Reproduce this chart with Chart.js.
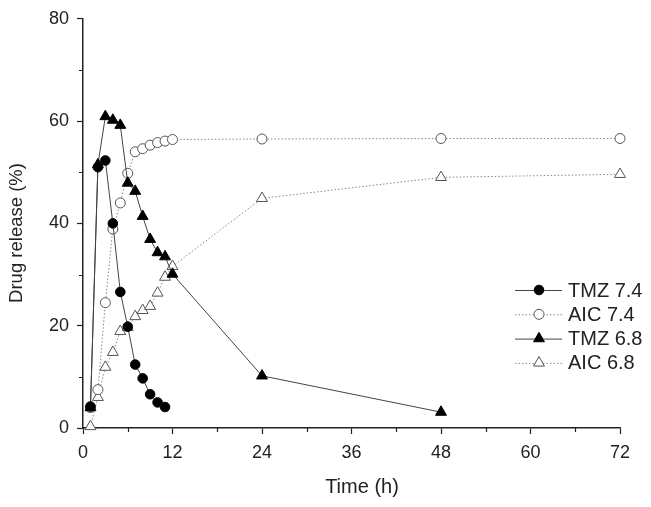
<!DOCTYPE html>
<html>
<head>
<meta charset="utf-8">
<script src="https://cdn.jsdelivr.net/npm/chart.js@4/dist/chart.umd.min.js"></script>
<style>
  html, body { margin: 0; padding: 0; background: #fff; }
  #wrap { width: 651px; height: 507px; }
</style>
</head>
<body>
<div id="wrap"><canvas id="releaseChart" width="651" height="507"></canvas></div>
<script>
// time points (h) and release values (%)
const tmz74Time = [1, 2, 3, 4, 5, 6, 7, 8, 9, 10, 11];
const tmz74 = [4.2, 51.0, 52.3, 40.0, 26.6, 19.8, 12.4, 9.7, 6.6, 5.0, 4.1];

const aic74Time = [1, 2, 3, 4, 5, 6, 7, 8, 9, 10, 11, 12, 24, 48, 72];
const aic74 = [4.0, 7.5, 24.5, 38.9, 44.0, 49.8, 54.0, 54.6, 55.3, 55.8, 56.1, 56.4, 56.5, 56.6, 56.6];

const tmz68Time = [1, 2, 3, 4, 5, 6, 7, 8, 9, 10, 11, 12, 24, 48];
const tmz68 = [4.0, 51.5, 60.9, 60.2, 59.2, 47.9, 46.3, 41.4, 36.9, 34.3, 33.5, 30.1, 10.2, 3.1];

const aic68Time = [1, 2, 3, 4, 5, 6, 7, 8, 9, 10, 11, 12, 24, 48, 72];
const aic68 = [0.3, 6.0, 11.9, 14.8, 18.9, 19.7, 21.8, 23.0, 23.8, 26.4, 29.5, 31.6, 44.9, 49.0, 49.6];

const xTicks = [0, 12, 24, 36, 48, 60, 72];
const yTicks = [0, 20, 40, 60, 80];
const xTitle = 'Time (h)';
const yTitle = 'Drug release (%)';

const FONT = 'Liberation Sans, Arial, sans-serif';
const INK = '#222';

function pts(xs, ys) {
  return xs.map((x, i) => ({ x: x, y: ys[i] }));
}

const solid = { borderColor: '#444', borderWidth: 1, borderDash: [] };
const dotted = { borderColor: '#888', borderWidth: 1, borderDash: [1.5, 2] };

const datasets = [
  Object.assign({
    label: 'TMZ 7.4', data: pts(tmz74Time, tmz74), order: 1,
    pointStyle: 'circle', pointRadius: 4.8, pointBackgroundColor: '#000', pointBorderColor: '#000', pointBorderWidth: 1
  }, solid),
  Object.assign({
    label: 'AIC 7.4', data: pts(aic74Time, aic74), order: 3,
    pointStyle: 'circle', pointRadius: 5, pointBackgroundColor: '#fff', pointBorderColor: '#555', pointBorderWidth: 1
  }, dotted),
  Object.assign({
    label: 'TMZ 6.8', data: pts(tmz68Time, tmz68), order: 2,
    pointStyle: 'triangle', pointRadius: 6.3, pointBackgroundColor: '#000', pointBorderColor: '#000', pointBorderWidth: 1
  }, solid),
  Object.assign({
    label: 'AIC 6.8', data: pts(aic68Time, aic68), order: 4,
    pointStyle: 'triangle', pointRadius: 6.3, pointBackgroundColor: '#fff', pointBorderColor: '#555', pointBorderWidth: 1
  }, dotted)
];

// minor ticks halfway between the labelled ones, plus the axis titles
const axisExtras = {
  id: 'axisExtras',
  afterDraw(chart) {
    const ctx = chart.ctx;
    const x = chart.scales.x, y = chart.scales.y;
    const area = chart.chartArea;
    ctx.save();
    ctx.strokeStyle = INK;
    ctx.lineWidth = 1.2;
    ctx.beginPath();
    for (let v = 6; v < 72; v += 12) {
      const px = Math.round(x.getPixelForValue(v)) + 0.5;
      ctx.moveTo(px, area.bottom);
      ctx.lineTo(px, area.bottom + 4);
    }
    for (let v = 10; v < 80; v += 20) {
      const py = Math.round(y.getPixelForValue(v)) + 0.5;
      ctx.moveTo(area.left, py);
      ctx.lineTo(area.left - 4, py);
    }
    ctx.stroke();

    ctx.fillStyle = INK;
    ctx.textAlign = 'center';
    ctx.textBaseline = 'middle';
    ctx.font = '20px ' + FONT;
    ctx.fillText(xTitle, 362, 487);
    ctx.translate(17, 233);
    ctx.rotate(-Math.PI / 2);
    ctx.font = '18.5px ' + FONT;
    ctx.fillText(yTitle, 0, 0);
    ctx.restore();
  }
};

// legend with line sample + marker, like the original figure
const lineLegend = {
  id: 'lineLegend',
  afterDraw(chart) {
    const ctx = chart.ctx;
    const x0 = 515, x1 = 562, xm = 539, xt = 568;
    let yRow = 290;
    ctx.save();
    chart.data.datasets.forEach((ds) => {
      ctx.strokeStyle = ds.borderColor;
      ctx.lineWidth = ds.borderWidth;
      ctx.setLineDash(ds.borderDash);
      ctx.beginPath();
      ctx.moveTo(x0, yRow + 0.5);
      ctx.lineTo(x1, yRow + 0.5);
      ctx.stroke();
      ctx.setLineDash([]);
      ctx.fillStyle = ds.pointBackgroundColor;
      ctx.strokeStyle = ds.pointBorderColor;
      ctx.lineWidth = ds.pointBorderWidth;
      Chart.helpers.drawPoint(ctx, { pointStyle: ds.pointStyle, radius: ds.pointRadius, borderWidth: ds.pointBorderWidth, rotation: 0 }, xm, yRow);
      ctx.fillStyle = INK;
      ctx.font = '20px ' + FONT;
      ctx.textBaseline = 'middle';
      ctx.fillText(ds.label, xt, yRow + 1);
      yRow += 24.3;
    });
    ctx.restore();
  }
};

new Chart(document.getElementById('releaseChart'), {
  type: 'line',
  data: { datasets: datasets },
  plugins: [axisExtras, lineLegend],
  options: {
    responsive: false,
    animation: false,
    clip: false,
    layout: { padding: { top: 15, right: 31, left: 0, bottom: 0 } },
    plugins: { legend: { display: false }, tooltip: { enabled: false } },
    elements: { line: { tension: 0 } },
    scales: {
      x: {
        type: 'linear', min: 0, max: 72,
        afterBuildTicks: (s) => { s.ticks = xTicks.map(v => ({ value: v })); },
        afterFit: (s) => { s.height = 79; },
        border: { display: true, color: INK, width: 1.5 },
        grid: { display: true, drawOnChartArea: false, drawTicks: true, tickLength: 6, tickColor: INK, tickWidth: 1.2 },
        ticks: { color: INK, font: { family: FONT, size: 18 }, padding: 8, maxRotation: 0 }
      },
      y: {
        min: 0, max: 80,
        afterBuildTicks: (s) => { s.ticks = yTicks.map(v => ({ value: v })); },
        afterFit: (s) => { s.width = 83; },
        border: { display: true, color: INK, width: 1.5 },
        grid: { display: true, drawOnChartArea: false, drawTicks: true, tickLength: 6, tickColor: INK, tickWidth: 1.2 },
        ticks: { color: INK, font: { family: FONT, size: 18 }, padding: 8 }
      }
    }
  }
});
</script>
</body>
</html>
